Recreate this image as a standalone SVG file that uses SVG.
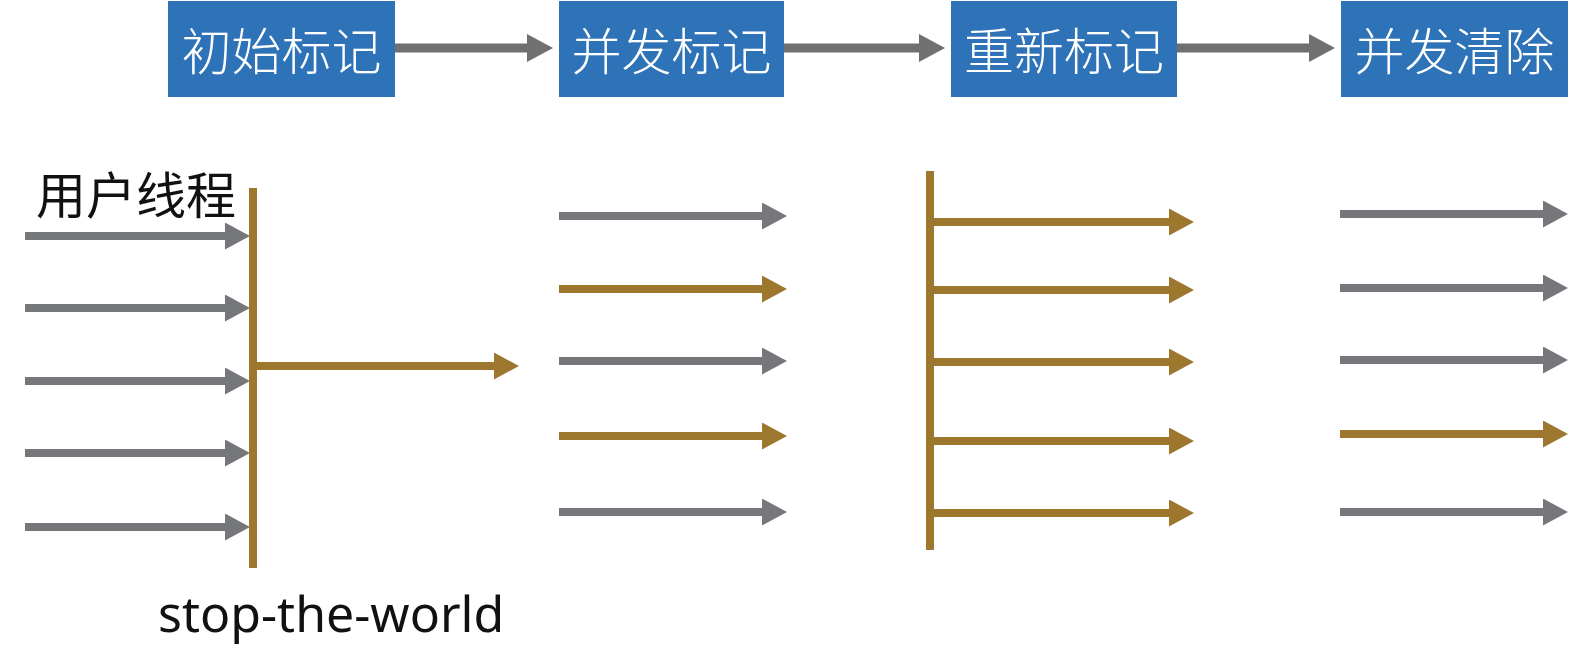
<svg xmlns="http://www.w3.org/2000/svg" width="1596" height="646" viewBox="0 0 1596 646">
<style>
.box{fill:#2E72B8}
.bt{fill:#ffffff;font-family:"Noto Sans CJK SC","Noto Sans",sans-serif;font-size:50px;font-weight:300;text-anchor:middle;dominant-baseline:central}
.g{stroke:#76777B;stroke-width:8;fill:none}
.b{stroke:#9E772E;stroke-width:8;fill:none}
.top{stroke:#707072;stroke-width:9;fill:none}
.lbl{fill:#111;font-family:"Noto Sans CJK SC","Noto Sans",sans-serif;font-size:50px;dominant-baseline:central}
.en{fill:#111;font-family:"Noto Sans","Open Sans",sans-serif;font-size:50px}
</style>
<defs>
<marker id="ag" markerUnits="userSpaceOnUse" markerWidth="25" markerHeight="27" refX="15" refY="13.5" orient="auto"><path d="M0,0 L25,13.5 L0,27 Z" fill="#76777B"/></marker>
<marker id="ab" markerUnits="userSpaceOnUse" markerWidth="25" markerHeight="27" refX="15" refY="13.5" orient="auto"><path d="M0,0 L25,13.5 L0,27 Z" fill="#9E772E"/></marker>
<marker id="at" markerUnits="userSpaceOnUse" markerWidth="26" markerHeight="28" refX="16" refY="14" orient="auto"><path d="M0,0 L26,14 L0,28 Z" fill="#707072"/></marker>
</defs>
<rect width="1596" height="646" fill="#ffffff"/>
<g id="n1"><rect class="box" x="168" y="1" width="227" height="96"/><text class="bt" x="281.5" y="48">初始标记</text></g>
<g id="n2"><rect class="box" x="559" y="1" width="225" height="96"/><text class="bt" x="671.5" y="48">并发标记</text></g>
<g id="n3"><rect class="box" x="951" y="1" width="226" height="96"/><text class="bt" x="1064" y="48">重新标记</text></g>
<g id="n4"><rect class="box" x="1341" y="1" width="227" height="96"/><text class="bt" x="1454.5" y="48">并发清除</text></g>
<g id="labels">
<text class="lbl" x="36" y="192">用户线程</text>
<text class="en" x="158" y="632">stop-the-world</text>
</g>
<g id="connectors">
<line class="top" x1="395" y1="48" x2="543" y2="48" marker-end="url(#at)"/>
<line class="top" x1="784" y1="48" x2="935" y2="48" marker-end="url(#at)"/>
<line class="top" x1="1177" y1="48" x2="1325" y2="48" marker-end="url(#at)"/>
<line class="g" x1="25" y1="236" x2="240" y2="236" marker-end="url(#ag)"/>
<line class="g" x1="25" y1="308" x2="240" y2="308" marker-end="url(#ag)"/>
<line class="g" x1="25" y1="381" x2="240" y2="381" marker-end="url(#ag)"/>
<line class="g" x1="25" y1="453" x2="240" y2="453" marker-end="url(#ag)"/>
<line class="g" x1="25" y1="527" x2="240" y2="527" marker-end="url(#ag)"/>
<line class="b" x1="253" y1="188" x2="253" y2="568"/>
<line class="b" x1="253" y1="366" x2="509" y2="366" marker-end="url(#ab)"/>
<line class="g" x1="559" y1="216" x2="777" y2="216" marker-end="url(#ag)"/>
<line class="b" x1="559" y1="289" x2="777" y2="289" marker-end="url(#ab)"/>
<line class="g" x1="559" y1="361" x2="777" y2="361" marker-end="url(#ag)"/>
<line class="b" x1="559" y1="436" x2="777" y2="436" marker-end="url(#ab)"/>
<line class="g" x1="559" y1="512" x2="777" y2="512" marker-end="url(#ag)"/>
<line class="b" x1="930" y1="171" x2="930" y2="550"/>
<line class="b" x1="930" y1="222" x2="1184" y2="222" marker-end="url(#ab)"/>
<line class="b" x1="930" y1="290" x2="1184" y2="290" marker-end="url(#ab)"/>
<line class="b" x1="930" y1="362" x2="1184" y2="362" marker-end="url(#ab)"/>
<line class="b" x1="930" y1="441" x2="1184" y2="441" marker-end="url(#ab)"/>
<line class="b" x1="930" y1="513" x2="1184" y2="513" marker-end="url(#ab)"/>
<line class="g" x1="1340" y1="214" x2="1558" y2="214" marker-end="url(#ag)"/>
<line class="g" x1="1340" y1="288" x2="1558" y2="288" marker-end="url(#ag)"/>
<line class="g" x1="1340" y1="360" x2="1558" y2="360" marker-end="url(#ag)"/>
<line class="b" x1="1340" y1="434" x2="1558" y2="434" marker-end="url(#ab)"/>
<line class="g" x1="1340" y1="512" x2="1558" y2="512" marker-end="url(#ag)"/>
</g>
</svg>
